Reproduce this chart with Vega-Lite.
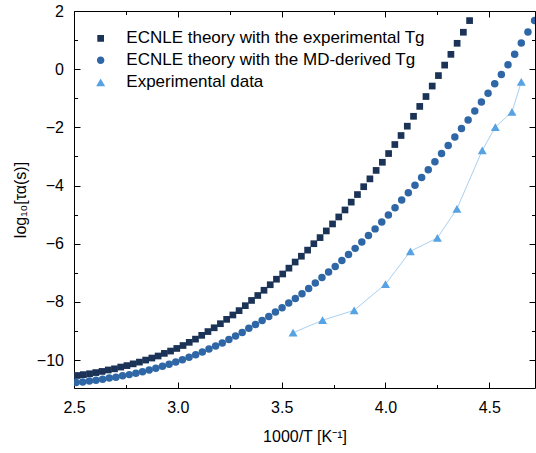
{
  "$schema": "https://vega.github.io/schema/vega-lite/v6.json",
  "width": 461,
  "height": 377,
  "autosize": {"type": "none"},
  "padding": {"left": 74, "top": 11, "right": 1, "bottom": 65},
  "background": "white",
  "config": {
    "view": {"stroke": null},
    "font": "Liberation Sans",
    "axis": {
      "grid": false,
      "domainColor": "black",
      "domainWidth": 1,
      "tickColor": "black",
      "tickWidth": 1,
      "tickSize": -6,
      "labelColor": "black",
      "titleColor": "black",
      "labelFont": "Liberation Sans",
      "titleFont": "Liberation Sans",
      "labelFontSize": 16,
      "titleFontSize": 16,
      "titleFontWeight": "normal",
      "labelFlush": false,
      "labelOverlap": false
    }
  },
  "datasets": {
    "pts": [
      {"s":"a","x":2.515,"y":-10.53},{"s":"a","x":2.545,"y":-10.50},{"s":"a","x":2.575,"y":-10.47},{"s":"a","x":2.605,"y":-10.43},
      {"s":"a","x":2.635,"y":-10.39},{"s":"a","x":2.665,"y":-10.34},{"s":"a","x":2.695,"y":-10.30},{"s":"a","x":2.725,"y":-10.24},
      {"s":"a","x":2.755,"y":-10.19},{"s":"a","x":2.785,"y":-10.13},{"s":"a","x":2.815,"y":-10.07},{"s":"a","x":2.845,"y":-10.00},
      {"s":"a","x":2.875,"y":-9.93},{"s":"a","x":2.905,"y":-9.86},{"s":"a","x":2.935,"y":-9.77},{"s":"a","x":2.965,"y":-9.69},
      {"s":"a","x":2.995,"y":-9.60},{"s":"a","x":3.025,"y":-9.50},{"s":"a","x":3.055,"y":-9.39},{"s":"a","x":3.085,"y":-9.28},
      {"s":"a","x":3.115,"y":-9.15},{"s":"a","x":3.145,"y":-9.02},{"s":"a","x":3.175,"y":-8.89},{"s":"a","x":3.205,"y":-8.75},
      {"s":"a","x":3.235,"y":-8.60},{"s":"a","x":3.265,"y":-8.45},{"s":"a","x":3.295,"y":-8.30},{"s":"a","x":3.325,"y":-8.13},
      {"s":"a","x":3.355,"y":-7.95},{"s":"a","x":3.385,"y":-7.78},{"s":"a","x":3.415,"y":-7.60},{"s":"a","x":3.445,"y":-7.41},
      {"s":"a","x":3.475,"y":-7.22},{"s":"a","x":3.505,"y":-7.04},{"s":"a","x":3.535,"y":-6.84},{"s":"a","x":3.565,"y":-6.63},
      {"s":"a","x":3.595,"y":-6.43},{"s":"a","x":3.625,"y":-6.22},{"s":"a","x":3.655,"y":-6.00},{"s":"a","x":3.685,"y":-5.79},
      {"s":"a","x":3.715,"y":-5.56},{"s":"a","x":3.745,"y":-5.32},{"s":"a","x":3.775,"y":-5.08},{"s":"a","x":3.805,"y":-4.84},
      {"s":"a","x":3.835,"y":-4.57},{"s":"a","x":3.865,"y":-4.31},{"s":"a","x":3.895,"y":-4.04},{"s":"a","x":3.925,"y":-3.77},
      {"s":"a","x":3.955,"y":-3.48},{"s":"a","x":3.985,"y":-3.20},{"s":"a","x":4.015,"y":-2.90},{"s":"a","x":4.045,"y":-2.59},
      {"s":"a","x":4.075,"y":-2.28},{"s":"a","x":4.105,"y":-1.96},{"s":"a","x":4.135,"y":-1.62},{"s":"a","x":4.165,"y":-1.28},
      {"s":"a","x":4.195,"y":-0.94},{"s":"a","x":4.225,"y":-0.58},{"s":"a","x":4.255,"y":-0.22},{"s":"a","x":4.285,"y":0.14},
      {"s":"a","x":4.315,"y":0.51},{"s":"a","x":4.345,"y":0.89},{"s":"a","x":4.375,"y":1.27},{"s":"a","x":4.405,"y":1.67},
      {"s":"b","x":2.510,"y":-10.77},{"s":"b","x":2.542,"y":-10.75},{"s":"b","x":2.574,"y":-10.72},{"s":"b","x":2.606,"y":-10.69},
      {"s":"b","x":2.638,"y":-10.66},{"s":"b","x":2.670,"y":-10.62},{"s":"b","x":2.702,"y":-10.59},{"s":"b","x":2.734,"y":-10.54},
      {"s":"b","x":2.766,"y":-10.50},{"s":"b","x":2.798,"y":-10.45},{"s":"b","x":2.830,"y":-10.40},{"s":"b","x":2.862,"y":-10.34},
      {"s":"b","x":2.894,"y":-10.28},{"s":"b","x":2.926,"y":-10.21},{"s":"b","x":2.958,"y":-10.14},{"s":"b","x":2.990,"y":-10.07},
      {"s":"b","x":3.022,"y":-9.99},{"s":"b","x":3.054,"y":-9.90},{"s":"b","x":3.086,"y":-9.82},{"s":"b","x":3.118,"y":-9.72},
      {"s":"b","x":3.150,"y":-9.62},{"s":"b","x":3.182,"y":-9.52},{"s":"b","x":3.214,"y":-9.41},{"s":"b","x":3.246,"y":-9.29},
      {"s":"b","x":3.278,"y":-9.17},{"s":"b","x":3.310,"y":-9.05},{"s":"b","x":3.342,"y":-8.91},{"s":"b","x":3.374,"y":-8.78},
      {"s":"b","x":3.406,"y":-8.64},{"s":"b","x":3.438,"y":-8.50},{"s":"b","x":3.470,"y":-8.35},{"s":"b","x":3.502,"y":-8.20},
      {"s":"b","x":3.534,"y":-8.04},{"s":"b","x":3.566,"y":-7.88},{"s":"b","x":3.598,"y":-7.72},{"s":"b","x":3.630,"y":-7.54},
      {"s":"b","x":3.662,"y":-7.35},{"s":"b","x":3.694,"y":-7.16},{"s":"b","x":3.726,"y":-6.97},{"s":"b","x":3.758,"y":-6.78},
      {"s":"b","x":3.790,"y":-6.58},{"s":"b","x":3.822,"y":-6.37},{"s":"b","x":3.854,"y":-6.16},{"s":"b","x":3.886,"y":-5.94},
      {"s":"b","x":3.918,"y":-5.72},{"s":"b","x":3.950,"y":-5.49},{"s":"b","x":3.982,"y":-5.25},{"s":"b","x":4.014,"y":-5.01},
      {"s":"b","x":4.046,"y":-4.76},{"s":"b","x":4.078,"y":-4.50},{"s":"b","x":4.110,"y":-4.25},{"s":"b","x":4.142,"y":-3.99},
      {"s":"b","x":4.174,"y":-3.72},{"s":"b","x":4.206,"y":-3.46},{"s":"b","x":4.238,"y":-3.18},{"s":"b","x":4.270,"y":-2.90},
      {"s":"b","x":4.302,"y":-2.62},{"s":"b","x":4.334,"y":-2.33},{"s":"b","x":4.366,"y":-2.04},{"s":"b","x":4.398,"y":-1.75},
      {"s":"b","x":4.430,"y":-1.44},{"s":"b","x":4.462,"y":-1.13},{"s":"b","x":4.494,"y":-0.83},{"s":"b","x":4.526,"y":-0.50},
      {"s":"b","x":4.558,"y":-0.18},{"s":"b","x":4.590,"y":0.15},{"s":"b","x":4.622,"y":0.51},{"s":"b","x":4.654,"y":0.90},
      {"s":"b","x":4.686,"y":1.28},{"s":"b","x":4.718,"y":1.67},
      {"s":"c","x":3.555,"y":-9.06},{"s":"c","x":3.697,"y":-8.63},{"s":"c","x":3.849,"y":-8.29},{"s":"c","x":4.000,"y":-7.39},
      {"s":"c","x":4.120,"y":-6.26},{"s":"c","x":4.250,"y":-5.80},{"s":"c","x":4.344,"y":-4.80},{"s":"c","x":4.466,"y":-2.79},
      {"s":"c","x":4.529,"y":-1.99},{"s":"c","x":4.609,"y":-1.47},{"s":"c","x":4.654,"y":-0.44}
    ]
  },
  "data": {"name": "pts"},
  "layer": [
    {
      "mark": {"type": "point", "filled": true, "size": 1, "opacity": 1, "clip": true},
      "encoding": {
        "x": {"field": "x", "type": "quantitative", "scale": {"domain": [2.5, 4.72], "nice": false, "zero": false}, "axis": null},
        "y": {"field": "y", "type": "quantitative", "scale": {"domain": [-10.96, 2], "nice": false, "zero": false}, "axis": null},
        "color": {
          "field": "s",
          "type": "nominal",
          "scale": {"domain": ["a", "b", "c"], "range": ["#1b3357", "#2f67a6", "#56a2e3"]},
          "legend": {
            "title": null,
            "orient": "none",
            "legendX": 13.15,
            "legendY": 13.85,
            "padding": 0,
            "labelFont": "Liberation Sans",
            "labelFontSize": 17,
            "labelColor": "black",
            "labelLimit": 0,
            "labelOffset": 12.15,
            "symbolSize": 660,
            "symbolOpacity": 1,
            "symbolStrokeColor": "#c9d5e2",
            "symbolStrokeWidth": 1,
            "rowPadding": 0,
            "labelExpr": "datum.value === 'a' ? 'ECNLE theory with the experimental Tg' : datum.value === 'b' ? 'ECNLE theory with the MD-derived Tg' : 'Experimental data'"
          }
        },
        "shape": {
          "field": "s",
          "type": "nominal",
          "scale": {
            "domain": ["a", "b", "c"],
            "range": [
              "M-1.556,0L-0.261,0M0.261,0L1.556,0M-0.261,-0.261L0.261,-0.261L0.261,0.261L-0.261,0.261Z",
              "M-1.556,0L-0.292,0M0.292,0L1.556,0M-0.292,0A0.292,0.292 0 1,0 0.292,0A0.292,0.292 0 1,0 -0.292,0Z",
              "M0,-0.303L0.35,0.303L-0.35,0.303Z"
            ]
          }
        }
      }
    },
    {
      "transform": [{"filter": "datum.s === 'c'"}],
      "mark": {"type": "line", "strokeWidth": 1, "color": "#a9d0f0", "clip": true},
      "encoding": {
        "x": {
          "field": "x", "type": "quantitative",
          "scale": {"domain": [2.5, 4.72], "nice": false, "zero": false},
          "axis": {"orient": "top", "labels": false, "title": null, "values": [2.5, 3, 3.5, 4, 4.5], "tickSize": -6}
        },
        "y": {
          "field": "y", "type": "quantitative",
          "scale": {"domain": [-10.96, 2], "nice": false, "zero": false},
          "axis": {"orient": "right", "labels": false, "title": null, "values": [-10, -8, -6, -4, -2, 0, 2], "tickSize": -6}
        }
      }
    },
    {
      "transform": [{"filter": "datum.s === 'a'"}],
      "mark": {"type": "point", "shape": "square", "filled": true, "color": "#1b3357", "size": 45, "opacity": 1, "clip": true},
      "encoding": {
        "x": {
          "field": "x", "type": "quantitative",
          "scale": {"domain": [2.5, 4.72], "nice": false, "zero": false},
          "axis": {
            "orient": "bottom",
            "values": [2.5, 3, 3.5, 4, 4.5],
            "format": ".1f",
            "tickSize": -6,
            "labelPadding": 17,
            "title": "1000/T [K⁻¹]",
            "titleX": 230.5,
            "titleY": 48,
            "titleBaseline": "middle",
            "titleAlign": "center"
          }
        },
        "y": {
          "field": "y", "type": "quantitative",
          "scale": {"domain": [-10.96, 2], "nice": false, "zero": false},
          "axis": {
            "orient": "left",
            "values": [-10, -8, -6, -4, -2, 0, 2],
            "format": "d",
            "tickSize": -6,
            "labelPadding": 16.5,
            "title": "log₁₀[τα(s)]",
            "titleX": -54,
            "titleY": 188.5,
            "titleBaseline": "middle",
            "titleAlign": "center",
            "titleAngle": 270
          }
        }
      }
    },
    {
      "transform": [{"filter": "datum.s === 'b'"}],
      "mark": {"type": "point", "shape": "circle", "filled": true, "color": "#2f67a6", "size": 56, "opacity": 1, "clip": true},
      "encoding": {
        "x": {
          "field": "x", "type": "quantitative",
          "scale": {"domain": [2.5, 4.72], "nice": false, "zero": false},
          "axis": {"orient": "bottom", "labels": false, "title": null, "domain": false, "values": [2.75, 3.25, 3.75, 4.25], "tickSize": -3.5}
        },
        "y": {
          "field": "y", "type": "quantitative",
          "scale": {"domain": [-10.96, 2], "nice": false, "zero": false},
          "axis": {"orient": "left", "labels": false, "title": null, "domain": false, "values": [-9, -7, -5, -3, -1, 1], "tickSize": -3.5}
        }
      }
    },
    {
      "transform": [{"filter": "datum.s === 'c'"}],
      "mark": {"type": "point", "shape": "triangle-up", "filled": true, "color": "#56a2e3", "size": 80, "opacity": 1, "clip": true},
      "encoding": {
        "x": {
          "field": "x", "type": "quantitative",
          "scale": {"domain": [2.5, 4.72], "nice": false, "zero": false},
          "axis": {"orient": "top", "labels": false, "title": null, "domain": false, "values": [2.75, 3.25, 3.75, 4.25], "tickSize": -3.5}
        },
        "y": {
          "field": "y", "type": "quantitative",
          "scale": {"domain": [-10.96, 2], "nice": false, "zero": false},
          "axis": {"orient": "right", "labels": false, "title": null, "domain": false, "values": [-9, -7, -5, -3, -1, 1], "tickSize": -3.5}
        }
      }
    }
  ],
  "resolve": {"axis": {"x": "independent", "y": "independent"}}
}
